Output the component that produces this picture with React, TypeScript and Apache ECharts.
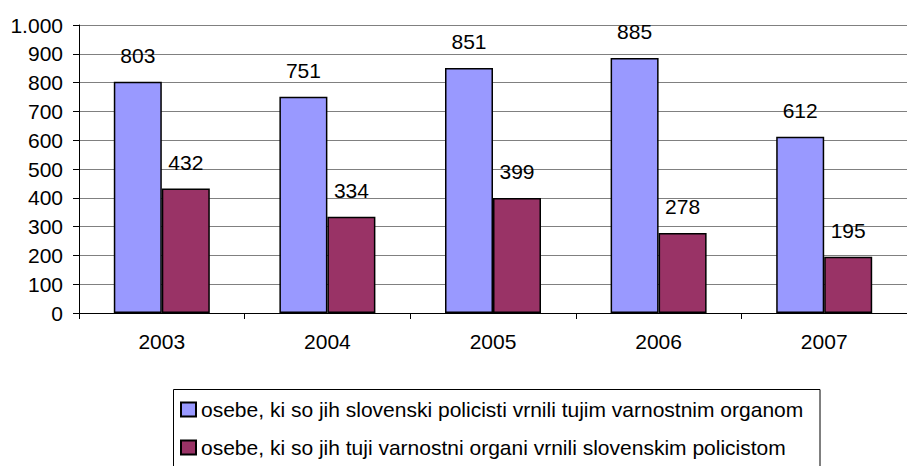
import React, { useEffect, useRef } from "react";
import * as echarts from "echarts";

const categories = ["2003", "2004", "2005", "2006", "2007"];
const returnedByOurPolice = [803, 751, 851, 885, 612];
const returnedToOurPolice = [432, 334, 399, 278, 195];
const seriesNames = [
  "osebe, ki so jih slovenski policisti vrnili tujim varnostnim organom",
  "osebe, ki so jih tuji varnostni organi vrnili slovenskim policistom",
];

const FONT = "'Liberation Sans', Arial, sans-serif";

export default function App() {
  const ref = useRef<HTMLDivElement>(null);
  useEffect(() => {
    if (!ref.current) return;
    const chart = echarts.init(ref.current, null, { renderer: "svg" });
    const label = {
      show: true,
      position: "top",
      distance: 16,
      color: "#000",
      fontSize: 21,
      fontFamily: FONT,
    };
    const legendBase = {
      orient: "horizontal",
      left: 180,
      padding: 0,
      itemWidth: 15,
      itemHeight: 14,
      icon: "rect",
      textStyle: { color: "#000", fontSize: 21, fontFamily: FONT },
    };
    chart.setOption({
      animation: false,
      backgroundColor: "#fff",
      textStyle: { fontFamily: FONT },
      grid: { left: 79, top: 25, width: 835, height: 288, containLabel: false },
      xAxis: {
        type: "category",
        data: categories,
        axisLine: { lineStyle: { color: "#000", width: 1 } },
        axisTick: { show: true, length: 6, inside: false, lineStyle: { color: "#000" } },
        axisLabel: { color: "#000", fontSize: 21, fontFamily: FONT, margin: 18 },
        splitLine: { show: false },
      },
      yAxis: {
        type: "value",
        min: 0,
        max: 1000,
        interval: 100,
        axisLine: { show: true, lineStyle: { color: "#000", width: 1 } },
        axisTick: { show: true, length: 6, lineStyle: { color: "#000" } },
        axisLabel: {
          color: "#000",
          fontSize: 21,
          fontFamily: FONT,
          margin: 16,
          formatter: (v: number) => (v >= 1000 ? String(v).replace(/\B(?=(\d{3})+(?!\d))/g, ".") : String(v)),
        },
        splitLine: { show: true, lineStyle: { color: "#808080", width: 1 } },
      },
      legend: [
        { ...legendBase, top: 399, data: [seriesNames[0]] },
        { ...legendBase, top: 437, data: [seriesNames[1]] },
      ],
      graphic: [
        {
          type: "rect",
          shape: { x: 173.5, y: 389.5, width: 646.5, height: 120 },
          style: { fill: "none", stroke: "#000", lineWidth: 1 },
          z: -1,
        },
      ],
      series: [
        {
          name: seriesNames[0],
          type: "bar",
          data: returnedByOurPolice,
          barWidth: 48,
          barGap: "0%",
          itemStyle: { color: "#9999FF", borderColor: "#000", borderWidth: 1.5 },
          label,
        },
        {
          name: seriesNames[1],
          type: "bar",
          data: returnedToOurPolice,
          barWidth: 48,
          barGap: "0%",
          itemStyle: { color: "#993366", borderColor: "#000", borderWidth: 1.5 },
          label,
        },
      ],
    });
    return () => chart.dispose();
  }, []);
  return (
    <div
      ref={ref}
      style={{ position: "fixed", left: 0, top: 0, width: 907, height: 466, background: "#fff" }}
    />
  );
}
